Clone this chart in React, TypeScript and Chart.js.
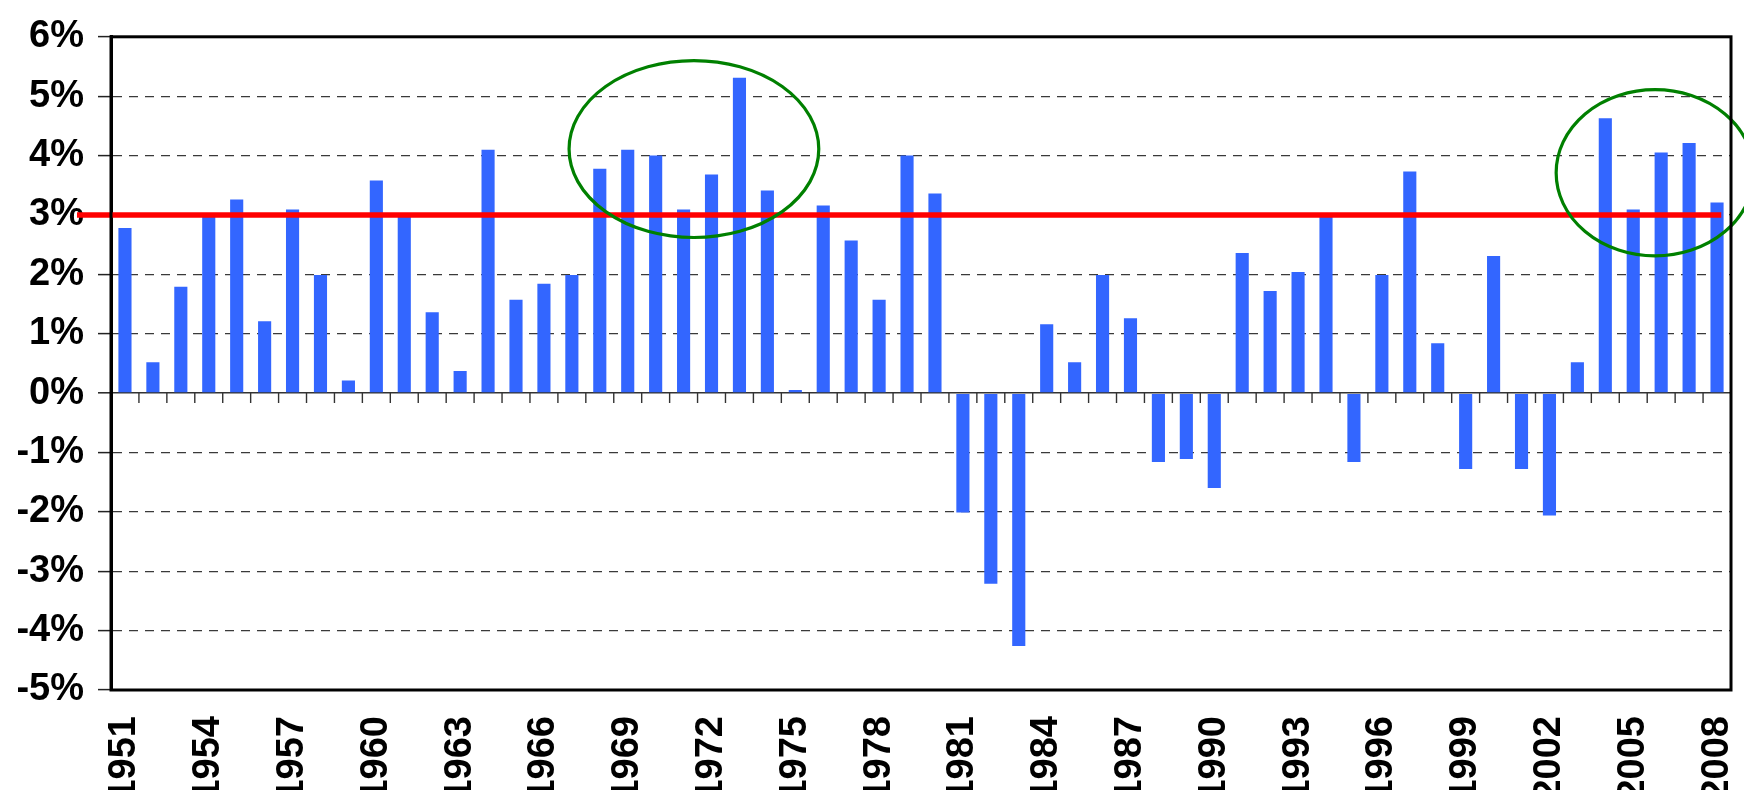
import React, { useEffect, useRef } from 'react';
import { Chart, registerables } from 'chart.js';

Chart.register(...registerables);

const years = [
  '1951', '1952', '1953', '1954', '1955', '1956', '1957', '1958', '1959', '1960',
  '1961', '1962', '1963', '1964', '1965', '1966', '1967', '1968', '1969', '1970',
  '1971', '1972', '1973', '1974', '1975', '1976', '1977', '1978', '1979', '1980',
  '1981', '1982', '1983', '1984', '1985', '1986', '1987', '1988', '1989', '1990',
  '1991', '1992', '1993', '1994', '1995', '1996', '1997', '1998', '1999', '2000',
  '2001', '2002', '2003', '2004', '2005', '2006', '2007', '2008',
];

const growth = [
  2.78, 0.52, 1.79, 2.98, 3.26, 1.21, 3.09, 1.99, 0.21, 3.58,
  2.98, 1.36, 0.37, 4.10, 1.57, 1.84, 1.99, 3.78, 4.10, 4.00,
  3.09, 3.68, 5.31, 3.41, 0.05, 3.16, 2.57, 1.57, 4.00, 3.36,
  -2.01, -3.21, -4.26, 1.16, 0.52, 1.99, 1.26, -1.16, -1.11, -1.60,
  2.36, 1.72, 2.04, 2.98, -1.16, 1.99, 3.73, 0.84, -1.28, 2.31,
  -1.28, -2.06, 0.52, 4.63, 3.09, 4.05, 4.21, 3.21,
];

const tickYears = [
  '1951', '1954', '1957', '1960', '1963', '1966', '1969', '1972', '1975', '1978',
  '1981', '1984', '1987', '1990', '1993', '1996', '1999', '2002', '2005', '2008',
];

const yMin = -5;
const yMax = 6;
const targetLevel = 3;

// highlight ellipses, in data units (category index, value)
const highlightCenterIdx = [20.37, 54.78];
const highlightCenterVal = [4.11, 3.71];
const highlightRadiusCats = [4.47, 3.54];
const highlightRadiusVal = [1.49, 1.4];

const FONT = '"Liberation Sans", Arial, Helvetica, sans-serif';

const decorPlugin = {
  id: 'decor',
  beforeDatasetsDraw(chart: any) {
    const { ctx } = chart;
    const xs = chart.scales.x;
    const ys = chart.scales.y;
    const y0 = ys.getPixelForValue(0);
    ctx.save();
    ctx.strokeStyle = '#333';
    ctx.lineWidth = 1.4;
    ctx.beginPath();
    for (let i = 1; i < years.length; i++) {
      const x = (xs.getPixelForValue(i - 1) + xs.getPixelForValue(i)) / 2;
      ctx.moveTo(x, y0);
      ctx.lineTo(x, y0 + 10);
    }
    ctx.stroke();
    ctx.restore();
  },
  afterDatasetsDraw(chart: any) {
    const { ctx, chartArea } = chart;
    const xs = chart.scales.x;
    const ys = chart.scales.y;
    const cw = xs.getPixelForValue(1) - xs.getPixelForValue(0);
    ctx.save();
    // target line
    const yt = ys.getPixelForValue(targetLevel);
    ctx.strokeStyle = '#FF0000';
    ctx.lineWidth = 5.5;
    ctx.beginPath();
    ctx.moveTo(chartArea.left - 34, yt);
    ctx.lineTo(xs.getPixelForValue(years.length - 1) + cw * 0.15, yt);
    ctx.stroke();
    // ellipses
    ctx.strokeStyle = '#008000';
    ctx.lineWidth = 3.2;
    for (let k = 0; k < highlightCenterIdx.length; k++) {
      const cx = xs.getPixelForValue(0) + highlightCenterIdx[k] * cw;
      const cy = ys.getPixelForValue(highlightCenterVal[k]);
      const rx = highlightRadiusCats[k] * cw;
      const ry = Math.abs(ys.getPixelForValue(0) - ys.getPixelForValue(highlightRadiusVal[k]));
      ctx.beginPath();
      ctx.ellipse(cx, cy, rx, ry, 0, 0, Math.PI * 2);
      ctx.stroke();
    }
    // frame
    ctx.strokeStyle = '#000';
    ctx.lineWidth = 3;
    ctx.strokeRect(chartArea.left, chartArea.top, chartArea.right - chartArea.left, chartArea.bottom - chartArea.top);
    ctx.restore();
  },
};

export default function App() {
  const canvasRef = useRef<HTMLCanvasElement | null>(null);

  useEffect(() => {
    document.body.style.margin = '0';
    document.body.style.overflow = 'hidden';
    const canvas = canvasRef.current;
    if (!canvas) return;
    const chart = new Chart(canvas, {
      type: 'bar',
      data: {
        labels: years,
        datasets: [
          {
            data: growth,
            backgroundColor: '#3366FF',
            borderWidth: 0,
            barPercentage: 0.47,
            categoryPercentage: 1,
          },
        ],
      },
      options: {
        animation: false,
        responsive: false,
        devicePixelRatio: 1,
        layout: { padding: { top: 31, right: 13, left: 0, bottom: 0 } },
        plugins: {
          legend: { display: false },
          tooltip: { enabled: false },
        },
        scales: {
          x: {
            grid: { display: false, drawTicks: false },
            border: { display: false },
            ticks: {
              autoSkip: false,
              maxRotation: 90,
              minRotation: 90,
              padding: 26,
              color: '#000',
              font: { family: FONT, size: 38, weight: 'bold' },
              callback: (_v: any, i: number) => (tickYears.includes(years[i]) ? years[i] : ''),
            },
            afterFit: (s: any) => {
              s.height = 100;
              s.paddingLeft = 0;
              s.paddingRight = 0;
            },
          },
          y: {
            min: yMin,
            max: yMax,
            ticks: {
              stepSize: 1,
              padding: 14,
              color: '#000',
              font: { family: FONT, size: 38, weight: 'bold' },
              callback: (v: any) => v + '%',
            },
            grid: {
              color: (c: any) => (c.tick && c.tick.value === 0 ? '#333' : '#3a3a3a'),
              lineWidth: (c: any) => (c.tick && c.tick.value === 0 ? 1.6 : 1.2),
              tickLength: 13,
              tickColor: '#222',
              tickWidth: 1.5,
              tickBorderDash: [],
            },
            border: {
              display: true,
              color: '#000',
              width: 3,
              dash: (c: any) => (c.tick && c.tick.value === 0 ? [] : [9, 7]),
            },
            afterFit: (s: any) => {
              s.width = 111;
            },
          },
        },
      },
      plugins: [decorPlugin],
    } as any);
    return () => chart.destroy();
  }, []);

  return (
    <div style={{ width: 1744, height: 790, position: 'relative' }}>
      <canvas ref={canvasRef} width={1744} height={790} style={{ display: 'block' }} />
    </div>
  );
}
